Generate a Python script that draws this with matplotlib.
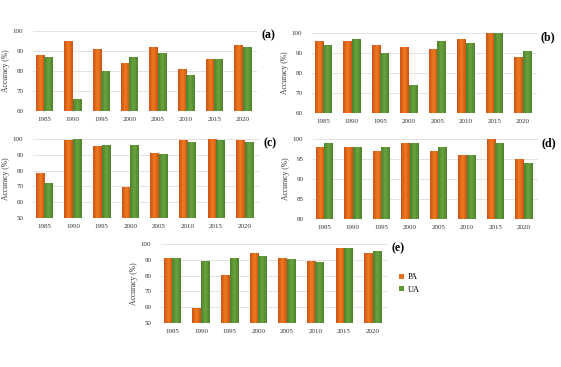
import matplotlib.pyplot as plt
import numpy as np
from matplotlib.colors import LinearSegmentedColormap

plt.rcParams['font.family'] = ['Liberation Serif', 'DejaVu Serif']

years = ['1985', '1990', '1995', '2000', '2005', '2010', '2015', '2020']

# producer's / user's accuracy for each panel
pa_a = [88, 95, 91, 84, 92, 81, 86, 93]
ua_a = [87, 66, 80, 87, 89, 78, 86, 92]
pa_b = [96, 96, 94, 93, 92, 97, 100, 88]
ua_b = [94, 97, 90, 74, 96, 95, 100, 91]
pa_c = [78, 99, 95, 69, 91, 99, 100, 99]
ua_c = [72, 100, 96, 96, 90, 98, 99, 98]
pa_d = [98, 98, 97, 99, 97, 96, 100, 95]
ua_d = [99, 98, 98, 99, 98, 96, 99, 94]
pa_e = [91, 59, 80, 94, 91, 89, 97, 94]
ua_e = [91, 89, 91, 92, 90, 88, 97, 95]

orange = '#e56d1c'
green = '#5e9834'
cmap_o = LinearSegmentedColormap.from_list('o', ['#c85419', '#f27b1e', '#c85419'])
cmap_g = LinearSegmentedColormap.from_list('g', ['#4e822e', '#6aa43e', '#4e822e'])
grad = np.linspace(0, 1, 64).reshape(1, -1)

W, H = 561, 367
fig = plt.figure(figsize=(W / 100, H / 100), dpi=100)


def px_axes(x0, x1, ytop, ybot):
    return fig.add_axes([x0 / W, 1 - ybot / H, (x1 - x0) / W, (ybot - ytop) / H])


def shade(ax, bars, cmap, ymin):
    # horizontal gradient fill over the visible part of each bar
    for b in bars:
        x0 = b.get_x()
        top = b.get_y() + b.get_height()
        ax.imshow(grad, cmap=cmap, aspect='auto', zorder=3,
                  extent=(x0, x0 + b.get_width(), ymin, top))


panels = [
    (px_axes(33, 257, 31, 111), pa_a, ua_a, (60, 100), 10, '(a)'),
    (px_axes(312, 537, 33, 113), pa_b, ua_b, (60, 100), 10, '(b)'),
    (px_axes(33, 259, 139, 218), pa_c, ua_c, (50, 100), 10, '(c)'),
    (px_axes(313, 538, 139, 219), pa_d, ua_d, (80, 100), 5, '(d)'),
    (px_axes(161, 387, 244, 323), pa_e, ua_e, (50, 100), 10, '(e)'),
]

x = np.arange(len(years))
bw = 0.3
for ax, pa, ua, ylim, step, tag in panels:
    b1 = ax.bar(x - bw / 2, pa, bw, color=orange, label='PA', zorder=2)
    b2 = ax.bar(x + bw / 2, ua, bw, color=green, label='UA', zorder=2)
    shade(ax, b1, cmap_o, ylim[0])
    shade(ax, b2, cmap_g, ylim[0])
    ax.set_ylim(*ylim)
    ax.set_xlim(-0.4, len(years) - 0.5)
    ax.set_yticks(np.arange(ylim[0], ylim[1] + 1, step))
    ax.set_xticks(x)
    ax.set_xticklabels(years)
    ax.tick_params(length=0, labelsize=5, colors='#333333')
    ax.tick_params(axis='x', pad=4)
    ax.tick_params(axis='y', pad=7)
    ax.set_axisbelow(True)
    ax.yaxis.grid(True, color='#dddddd', linewidth=0.6)
    for s in ax.spines.values():
        s.set_visible(False)
    ax.set_ylabel('Accuracy (%)', fontsize=5.5, color='#333333', labelpad=2)
    ax.text(1.05, 0.95, tag, transform=ax.transAxes, fontsize=8.5,
            fontweight='bold', ha='center', va='center')

ax_e = panels[-1][0]
ax_e.legend(loc='center left', bbox_to_anchor=(1.02, 0.5), frameon=False,
            fontsize=6, handlelength=0.6, handleheight=0.6, handletextpad=0.4,
            labelspacing=0.5)

fig.savefig('out.png', dpi=100, facecolor='white')
